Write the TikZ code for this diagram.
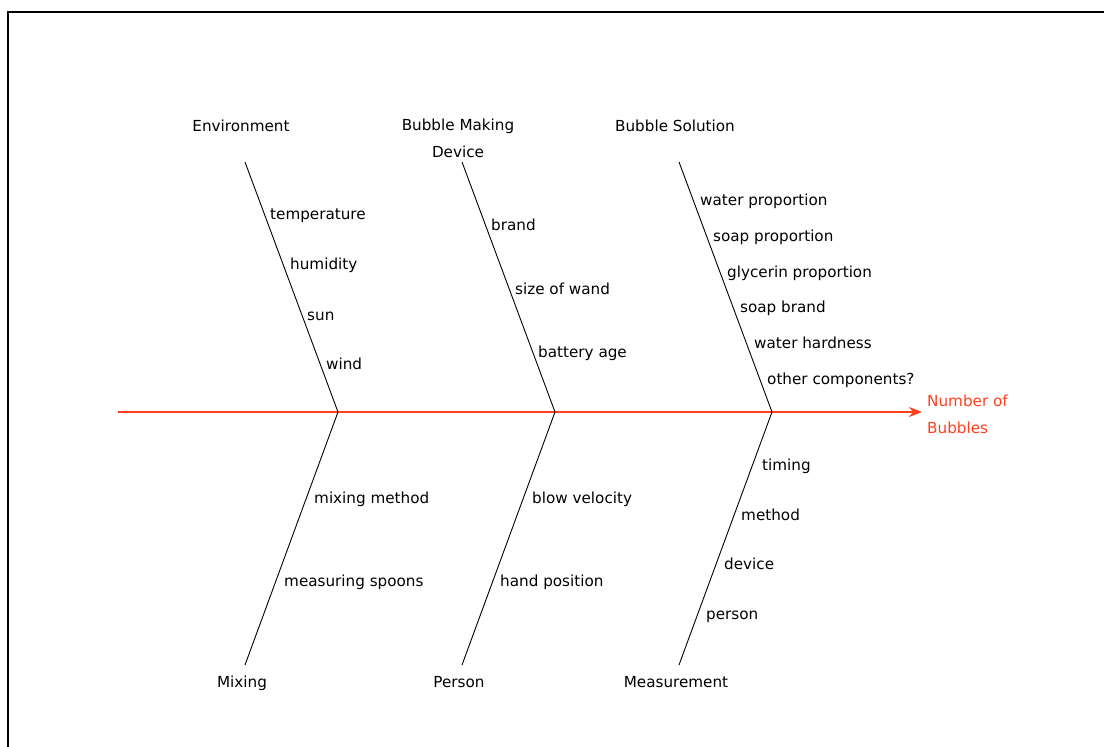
\documentclass[tikz,border=0pt]{standalone}
\usepackage{fontspec}
\setmainfont{DejaVu Sans}
\usetikzlibrary{arrows.meta}
\definecolor{effectred}{RGB}{255,64,32}

\tikzset{%
  every bone/.style={
    draw,
    line width=0.9pt
  },
  bone label/.style={
    anchor=base,
    align=center,
    inner sep=0pt,
    font=\fontsize{15.2}{26.5}\selectfont
  },
  cause/.style={
    anchor=base west,
    inner sep=0pt,
    font=\fontsize{15.2}{26.5}\selectfont
  },
}

\begin{document}
\begin{tikzpicture}[x=1pt, y=-1pt, >={Stealth[length=13pt,width=10pt,inset=4pt]}]

\useasboundingbox (0,0) rectangle (1104,747);
\draw [line width=1.6pt] (8,747) -- (8,12) -- (1104,12);

% spine and effect
\coordinate (tail) at (118,412);
\node [cause, effectred, align=left] (effect) at (927,433) {Number of\\Bubbles};
\draw [->, effectred, line width=1.6pt, shorten >=5pt] (tail) -- (tail -| effect.west);

% bones (base anchor = last line)
\foreach \x/\top/\y/\bot [count=\i] in {245/Environment/131/Mixing,
    462/{Bubble Making\\Device}/157/Person,
    679/Bubble Solution/131/Measurement}
{
  \coordinate (head-\i) at (\x,162);
  \coordinate (joint-\i) at (\x+93,412);
  \coordinate (foot-\i) at (\x,665);
  \node [bone label] (top-\i) at (\x-4,\y) {\top};
  \node [bone label] (bot-\i) at (\x-3,687) {\bot};
  \draw [every bone] (head-\i) -- (joint-\i) -- (foot-\i);
}

% causes
\foreach \x/\y/\l in {270/219/temperature, 290/269/humidity, 307/320/sun, 326/369/wind,
    491/230/brand, 515/294/size of wand, 538/357/battery age,
    700/205/water proportion, 713/241/soap proportion, 727/277/glycerin proportion,
    740/312/soap brand, 754/348/water hardness, 767/384/other components?,
    314/503/mixing method, 284/586/measuring spoons,
    532/503/blow velocity, 500/586/hand position,
    762/470/timing, 741/520/method, 724/569/device, 706/619/person}
  \node [cause] at (\x,\y) {\l};

\end{tikzpicture}
\end{document}
